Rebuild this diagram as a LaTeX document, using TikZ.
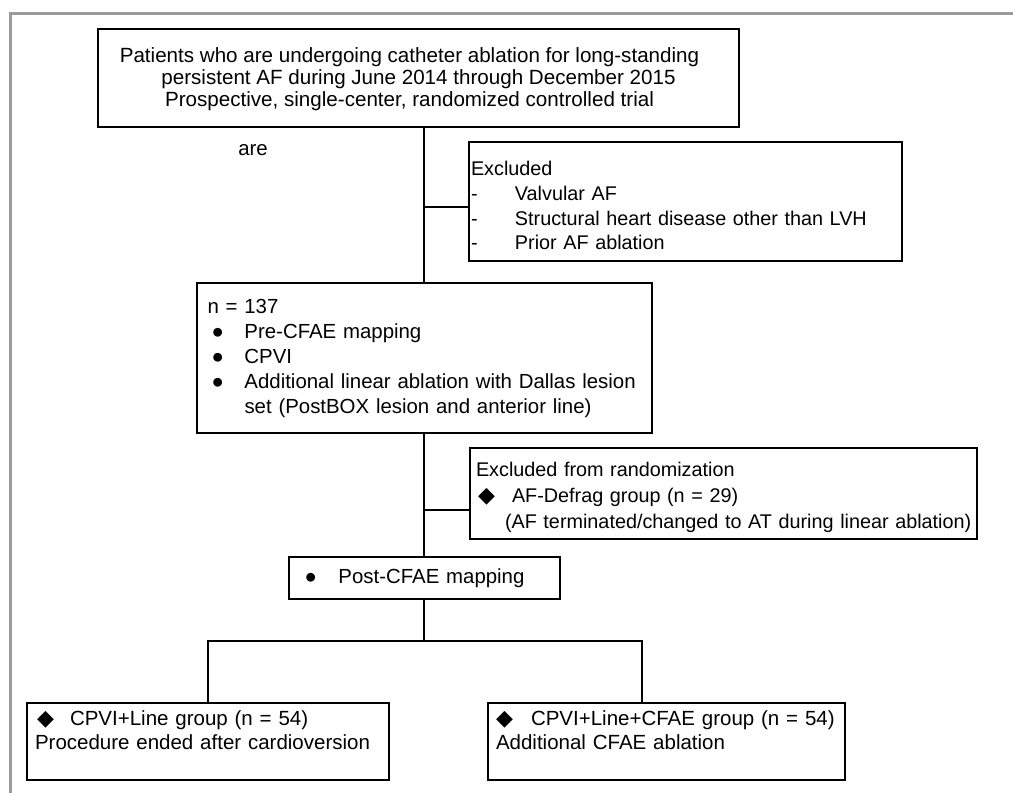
\documentclass[tikz,border=0pt]{standalone}
\usepackage{fontspec}
\setmainfont{Liberation Sans}
\newfontfamily\symfont{DejaVu Sans}
\usepackage{tikz}
\usetikzlibrary{positioning}
\definecolor{framegray}{RGB}{155,155,155}
\newcommand{\dmd}{{\symfont\fontsize{11pt}{10pt}\selectfont ◆}}

\begin{document}
\begin{tikzpicture}[x=0.5pt,y=-0.5pt]
\tikzstyle{flowbox} = [rectangle, draw=black, line width=1pt, align=left, inner ysep=0pt, font=\fontsize{10.2}{12.5}\selectfont]
\tikzstyle{groupbox} = [flowbox, inner xsep=4pt, text width=173pt, text height=11.25pt, text depth=27.25pt, font=\fontsize{10.25}{12}\selectfont]
\tikzstyle{link} = [line width=1pt]

\useasboundingbox (0,0) rectangle (1013,793);
\draw[framegray, line width=1.5pt] (10,793) -- (10,13) -- (1013,13);

\node (screen) [flowbox, align=center, minimum width=320.5pt, minimum height=49pt, text height=30.5pt, text depth=2.2pt, font=\fontsize{10.3}{11}\selectfont] at (418.5,78)
  {Patients who are undergoing catheter ablation for long-standing\hspace*{9pt}\\
   persistent AF during June 2014 through December 2015\hspace*{9pt}\\
   Prospective, single-center, randomized controlled trial\hspace*{9pt}};
\node (are) [font=\fontsize{10.2}{12}\selectfont] at (253,150) {are};

\node (excl) [flowbox, inner xsep=1pt, text width=214.5pt, minimum height=59.5pt, text height=11.3pt, font=\fontsize{9.9}{12.4}\selectfont] at (685.5,201.5)
  {Excluded\\
   \makebox[22pt][l]{-}Valvular AF\\
   \makebox[22pt][l]{-}Structural heart disease other than LVH\\
   \makebox[22pt][l]{-}Prior AF ablation};

\node (enrolled) [flowbox, inner xsep=5.5pt, text width=216.5pt, minimum height=75pt] at (424,358)
  {n = 137\\
   \hspace*{2pt}\makebox[16.5pt][l]{●}Pre-CFAE mapping\\
   \hspace*{2pt}\makebox[16.5pt][l]{●}CPVI\\
   \hspace*{2pt}\makebox[16.5pt][l]{●}\mbox{Additional linear ablation with Dallas lesion}\\
   \hspace*{18.5pt}\mbox{set (PostBOX lesion and anterior line)}};

\node (randex) [flowbox, inner xsep=3pt, text width=247.5pt, minimum height=45.5pt, text height=11.2pt, font=\fontsize{9.9}{13}\selectfont] at (723.5,493.5)
  {Excluded from randomization\\
   \hspace*{1pt}\makebox[17pt][l]{\dmd}AF-Defrag group (n = 29)\\
   \hspace*{14.5pt}\mbox{(AF terminated/changed to AT during linear ablation)}};

\node (post) [flowbox, inner xsep=8pt, text width=119.5pt, minimum height=21pt] at (424,578)
  {\makebox[17pt][l]{●}Post-CFAE mapping};

\node (lgroup) [groupbox] at (208,741.5)
  {\hspace*{1pt}\makebox[16.5pt][l]{\dmd}CPVI+Line group (n = 54)\\
   Procedure ended after cardioversion};
\node (rgroup) [groupbox, text width=170.5pt] at (666.5,741.5)
  {\makebox[17.5pt][l]{\dmd}CPVI+Line+CFAE group (n = 54)\\
   Additional CFAE ablation};

\coordinate (j1) at (424,207);
\coordinate (j2) at (424,510);
\coordinate (split) at (424,641);
\coordinate (rdrop) at (642,641);

\draw[link] (screen.south -| enrolled.north) -- (enrolled.north);
\draw[link] (j1) -- (j1 -| excl.west);
\draw[link] (enrolled.south) -- (post.north);
\draw[link] (j2) -- (j2 -| randex.west);
\draw[link] (post.south) -- (split);
\draw[link] (lgroup.north) |- (rdrop) -- (rdrop |- rgroup.north);
\end{tikzpicture}
\end{document}
